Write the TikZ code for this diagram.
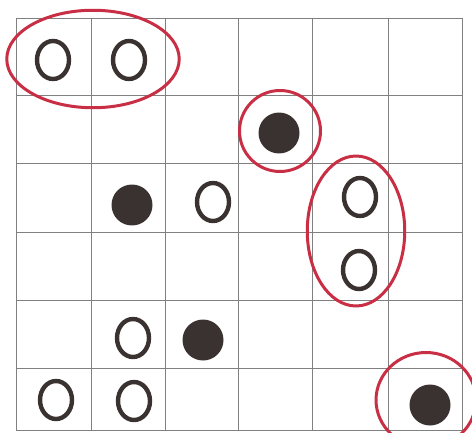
\documentclass[tikz,border=0pt]{standalone}
\usetikzlibrary{shapes.geometric}
\definecolor{ink}{HTML}{3A3230}
\definecolor{ringred}{HTML}{C82E44}
\begin{document}
\begin{tikzpicture}[x=0.02cm,y=-0.02cm]
        \tikzset{open node/.style={ellipse, draw=ink, line width=2.5pt, minimum width=0.64cm, minimum height=0.76cm, inner sep=0pt},
          full node/.style={circle, fill=ink, minimum size=0.82cm, inner sep=0pt},
          ring node/.style={ellipse, draw=ringred, line width=1.7pt, inner sep=0pt},
          grid line/.style={draw=black!50, line width=0.55pt}}
        \useasboundingbox[fill=white] (0,0) rectangle (472,432);
        \clip (0,0) rectangle (472,432);
        % grid
        \foreach \x in {16,91,165,238,312,388,462}
          \draw[grid line] (\x,18) -- (\x,430);
        \foreach \y in {18,95,163,232,300,368,430}
          \draw[grid line] (16,\y) -- (462,\y);
        % stones
        \node[open node] (o11) at (53,60) {};
        \node[open node] (o12) at (129,60) {};
        \node[full node] (f24) at (279,133) {};
        \node[full node] (f32) at (132,205) {};
        \node[open node] (o33) at (213,202) {};
        \node[open node] (o35) at (360,197) {};
        \node[open node] (o45) at (359,270) {};
        \node[open node] (o52) at (133,338) {};
        \node[full node] (f53) at (203,340) {};
        \node[open node] (o61) at (56,400) {};
        \node[open node] (o62) at (134,401) {};
        \node[full node] (f66) at (430,405) {};
        % red rings
        \node[ring node, minimum width=3.45cm, minimum height=1.95cm] (pair) at (93,59) {};
        \node[ring node, minimum width=1.62cm, minimum height=1.62cm] (single) at (280,131) {};
        \node[ring node, minimum width=1.95cm, minimum height=3.0cm] (column) at (356,231) {};
        \node[ring node, minimum width=2.0cm, minimum height=1.9cm] (corner) at (426,400) {};
      \end{tikzpicture}
\end{document}
